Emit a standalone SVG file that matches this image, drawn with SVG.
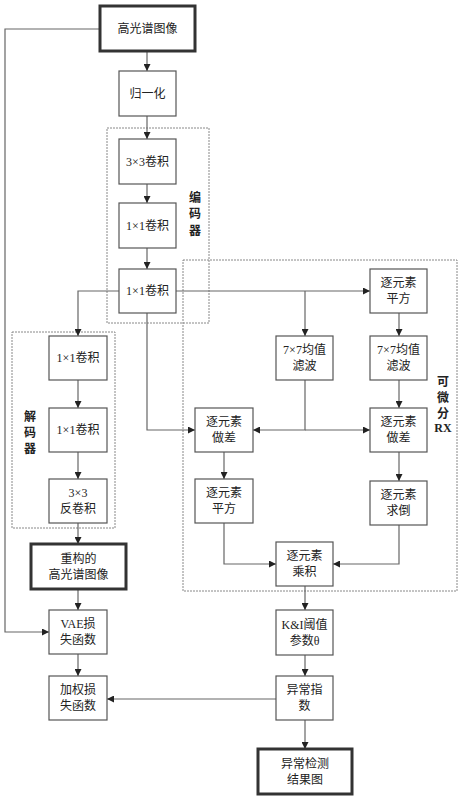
<svg xmlns="http://www.w3.org/2000/svg" width="462" height="800" viewBox="0 0 462 800">
<style>
.bx{fill:#fff;stroke:#555;stroke-width:1.2}
.tk{fill:#fff;stroke:#333;stroke-width:3}
.fr{fill:none;stroke:#888;stroke-width:1;stroke-dasharray:2 1}
.ln{fill:none;stroke:#666;stroke-width:1.2}
text{font-family:"Liberation Serif","Noto Sans CJK SC",serif;font-size:12px;fill:#222;text-anchor:middle;dominant-baseline:central}
.lb{font-family:"Noto Sans CJK SC",sans-serif;font-weight:bold;font-size:12px}
.lbr{font-family:"Liberation Serif",serif;font-weight:bold;font-size:12px}
</style>
<defs>
<marker id="ar" viewBox="0 0 8 8" refX="8" refY="4" markerWidth="7" markerHeight="7" markerUnits="userSpaceOnUse" orient="auto">
<path d="M0,0 L8,4 L0,8 Z" fill="#222"/>
</marker>
</defs>
<g id="frames">
<rect class="fr" x="107" y="128" width="102" height="195"/>
<rect class="fr" x="183" y="260" width="274" height="331"/>
<rect class="fr" x="12" y="332" width="103" height="196"/>
<text class="lb" x="195" y="196">编</text>
<text class="lb" x="195" y="212">码</text>
<text class="lb" x="195" y="229">器</text>
<text class="lb" x="443" y="380">可</text>
<text class="lb" x="443" y="396">微</text>
<text class="lb" x="443" y="412">分</text>
<text class="lbr" x="443" y="428">RX</text>
<text class="lb" x="30" y="415">解</text>
<text class="lb" x="30" y="431">码</text>
<text class="lb" x="30" y="447">器</text>
</g>
<g id="connectors">
<path class="ln" d="M147,51 V71" marker-end="url(#ar)"/>
<path class="ln" d="M147,116 V139" marker-end="url(#ar)"/>
<path class="ln" d="M147,184 V203" marker-end="url(#ar)"/>
<path class="ln" d="M147,248 V269" marker-end="url(#ar)"/>
<path class="ln" d="M119,291 H78 V336" marker-end="url(#ar)"/>
<path class="ln" d="M176,291 H370" marker-end="url(#ar)"/>
<path class="ln" d="M305,291 V336" marker-end="url(#ar)"/>
<path class="ln" d="M147,313 V430 H195" marker-end="url(#ar)"/>
<path class="ln" d="M305,380 V430 H253" marker-end="url(#ar)"/>
<path class="ln" d="M305,430 H370" marker-end="url(#ar)"/>
<path class="ln" d="M399,313 V336" marker-end="url(#ar)"/>
<path class="ln" d="M399,380 V408" marker-end="url(#ar)"/>
<path class="ln" d="M224,452 V479" marker-end="url(#ar)"/>
<path class="ln" d="M399,452 V481" marker-end="url(#ar)"/>
<path class="ln" d="M224,523 V564 H276" marker-end="url(#ar)"/>
<path class="ln" d="M399,525 V564 H333" marker-end="url(#ar)"/>
<path class="ln" d="M305,586 V610" marker-end="url(#ar)"/>
<path class="ln" d="M305,655 V676" marker-end="url(#ar)"/>
<path class="ln" d="M305,720 V749" marker-end="url(#ar)"/>
<path class="ln" d="M276,699 H107" marker-end="url(#ar)"/>
<path class="ln" d="M78,380 V408" marker-end="url(#ar)"/>
<path class="ln" d="M78,452 V479" marker-end="url(#ar)"/>
<path class="ln" d="M78,523 V544" marker-end="url(#ar)"/>
<path class="ln" d="M78,589 V610" marker-end="url(#ar)"/>
<path class="ln" d="M78,654 V676" marker-end="url(#ar)"/>
<path class="ln" d="M100,29 H5 V632 H49" marker-end="url(#ar)"/>
</g>
<g id="n_hsi"><rect class="tk" x="100" y="6" width="95" height="45"/><text x="147.5" y="28.5">高光谱图像</text></g>
<g id="n_norm"><rect class="bx" x="119" y="71" width="57" height="45"/><text x="147.5" y="93.5">归一化</text></g>
<g id="n_enc1"><rect class="bx" x="119" y="139" width="57" height="45"/><text x="147.5" y="161.5">3×3卷积</text></g>
<g id="n_enc2"><rect class="bx" x="119" y="203" width="57" height="45"/><text x="147.5" y="225.5">1×1卷积</text></g>
<g id="n_enc3"><rect class="bx" x="119" y="269" width="57" height="44"/><text x="147.5" y="291">1×1卷积</text></g>
<g id="n_sq1"><rect class="bx" x="370" y="269" width="57" height="44"/><text x="398.5" y="283">逐元素</text><text x="398.5" y="299">平方</text></g>
<g id="n_mf1"><rect class="bx" x="276" y="336" width="57" height="44"/><text x="304.5" y="350">7×7均值</text><text x="304.5" y="366">滤波</text></g>
<g id="n_mf2"><rect class="bx" x="370" y="336" width="57" height="44"/><text x="398.5" y="350">7×7均值</text><text x="398.5" y="366">滤波</text></g>
<g id="n_diff1"><rect class="bx" x="195" y="408" width="58" height="44"/><text x="224" y="422">逐元素</text><text x="224" y="438">做差</text></g>
<g id="n_diff2"><rect class="bx" x="370" y="408" width="57" height="44"/><text x="398.5" y="422">逐元素</text><text x="398.5" y="438">做差</text></g>
<g id="n_sq2"><rect class="bx" x="195" y="479" width="58" height="44"/><text x="224" y="493">逐元素</text><text x="224" y="509">平方</text></g>
<g id="n_inv"><rect class="bx" x="370" y="481" width="57" height="44"/><text x="398.5" y="495">逐元素</text><text x="398.5" y="511">求倒</text></g>
<g id="n_mul"><rect class="bx" x="276" y="542" width="57" height="44"/><text x="304.5" y="556">逐元素</text><text x="304.5" y="572">乘积</text></g>
<g id="n_ki"><rect class="bx" x="276" y="610" width="57" height="45"/><text x="304.5" y="624.5">K&amp;I阈值</text><text x="304.5" y="640.5">参数θ</text></g>
<g id="n_idx"><rect class="bx" x="276" y="676" width="57" height="44"/><text x="304.5" y="690">异常指</text><text x="304.5" y="706">数</text></g>
<g id="n_res"><rect class="tk" x="258" y="749" width="94" height="45"/><text x="305" y="763.5">异常检测</text><text x="305" y="779.5">结果图</text></g>
<g id="n_dec1"><rect class="bx" x="49" y="336" width="58" height="44"/><text x="78" y="358">1×1卷积</text></g>
<g id="n_dec2"><rect class="bx" x="49" y="408" width="58" height="44"/><text x="78" y="430">1×1卷积</text></g>
<g id="n_dec3"><rect class="bx" x="49" y="479" width="58" height="44"/><text x="78" y="493">3×3</text><text x="78" y="509">反卷积</text></g>
<g id="n_rec"><rect class="tk" x="31" y="544" width="95" height="45"/><text x="78.5" y="558.5">重构的</text><text x="78.5" y="574.5">高光谱图像</text></g>
<g id="n_vae"><rect class="bx" x="49" y="610" width="58" height="44"/><text x="78" y="624">VAE损</text><text x="78" y="640">失函数</text></g>
<g id="n_wl"><rect class="bx" x="49" y="676" width="58" height="44"/><text x="78" y="690">加权损</text><text x="78" y="706">失函数</text></g>
</svg>
